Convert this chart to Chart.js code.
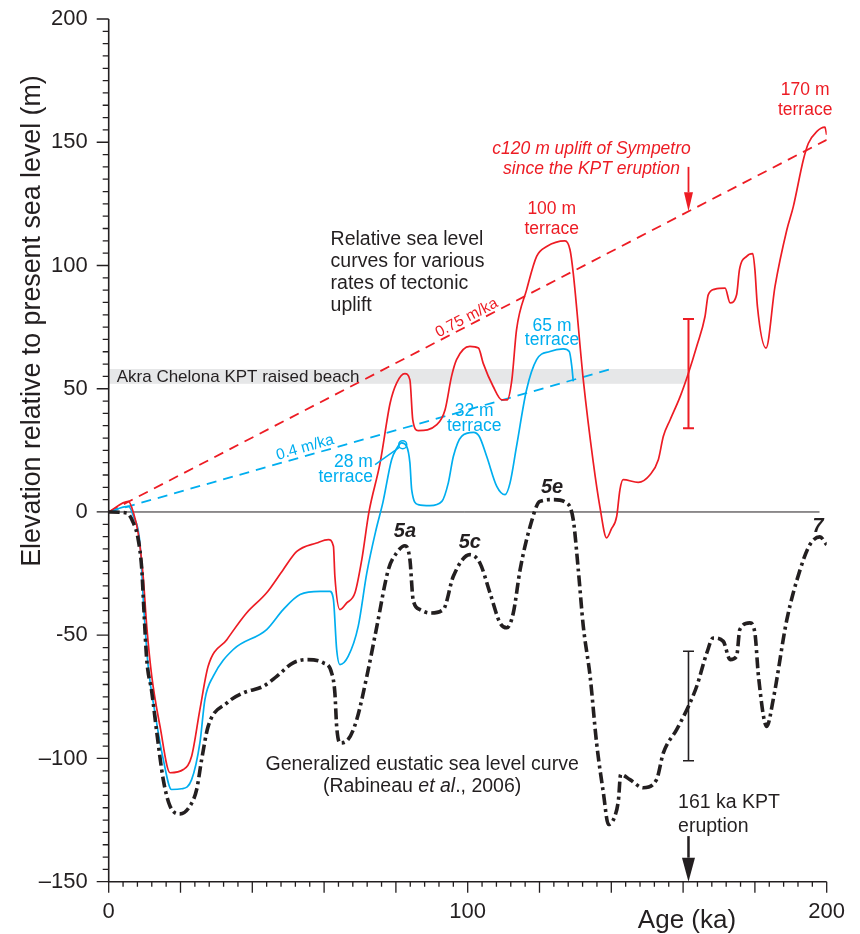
<!DOCTYPE html>
<html>
<head>
<meta charset="utf-8">
<script src="https://cdn.jsdelivr.net/npm/chart.js@4.4.1/dist/chart.umd.min.js"></script>
<style>
  html, body { margin: 0; padding: 0; background: #fff; }
  canvas { display: block; }
</style>
</head>
<body>
<canvas id="chart" width="860" height="934"></canvas>
<script>
// Generalized eustatic sea level curve (Rabineau et al., 2006)
const AGE_EUSTATIC = [0, 5, 6.9, 8.2, 9.2, 9.8, 10.6, 12, 13.4, 15.2, 17.1, 19.9, 22.6, 24.5, 25.9, 27.7, 32.9, 37.5, 43.1, 46.8, 51.4, 55.2, 59.8, 62.1, 63, 63.5, 64.4, 66.7, 69.1, 71.9, 74.7, 77.9, 80.2, 82.5, 83.9, 84.8, 86.7, 89.5, 93.2, 96, 100.6, 103.4, 106.2, 109, 110.9, 112.7, 114.6, 117.4, 120.1, 123.8, 127.6, 129.4, 130.8, 132.2, 134.1, 135.9, 137.8, 139.2, 141, 142, 142.6, 145.2, 148.9, 152.6, 154.5, 158.2, 161.5, 163.8, 166.6, 168.4, 171.2, 173.1, 174.9, 175.8, 178.6, 180, 181, 183.3, 185.1, 188.9, 192.6, 195.3, 198.1, 200];
const SL_EUSTATIC = [0, -0.4, -4.5, -11, -23, -39.6, -60, -73, -89.5, -108.6, -119.4, -122.5, -119.4, -112.6, -100.4, -87, -77.5, -73.4, -70.7, -66.7, -61.2, -59.9, -61.2, -65.3, -73.4, -87, -93.7, -92.3, -84.2, -66.7, -46.4, -23.4, -16.6, -13.7, -19.3, -35.6, -39.6, -41, -39.6, -26.1, -17.3, -20.7, -32.8, -45, -47, -41, -23.4, -5.8, 4.3, 5, 3.6, -3.1, -23.4, -46.4, -66.7, -93.7, -114, -126.8, -123.4, -116.7, -106.5, -108.6, -111.9, -108.6, -97.7, -88.3, -78.8, -70.7, -57.2, -51.1, -52.5, -59.9, -58.6, -47.7, -45, -49.1, -66.7, -87, -76.1, -43.7, -23.4, -13.3, -10.1, -13.3];

// Relative sea level, 0.75 m/ka uplift
const AGE_RED = [0, 5.5, 6.9, 8.2, 9.6, 10.6, 12, 14.3, 17.1, 20.8, 23.1, 25.4, 27.7, 32.9, 38.4, 44, 48.6, 52.4, 57.9, 61.2, 62.6, 63, 64.4, 66.3, 68.6, 70.5, 72.5, 75.6, 78.4, 80.2, 82.5, 83.9, 84.7, 86.2, 91.4, 93.7, 95.5, 96.9, 100.6, 103, 104.3, 107.1, 109.5, 111, 112.3, 113.6, 116.4, 119.2, 122, 127.1, 128.5, 129.4, 132.2, 135, 136.8, 138.7, 140, 141.5, 142.4, 143.3, 147.5, 150.8, 153.1, 154.5, 156.4, 159.2, 161.5, 163.8, 166.1, 167, 168.9, 171.7, 173.1, 174.9, 175.7, 177.7, 179.4, 180, 180.7, 183.1, 185.6, 188.9, 190.7, 193.5, 194.9, 197.2, 199.5, 200];
const SL_RED = [0, 4.3, -0.4, -8.5, -26.1, -46.4, -66.7, -87, -105.8, -104.5, -99.1, -80.2, -62.6, -51.8, -41, -32.8, -23.4, -16, -12.6, -11.2, -13.9, -26.1, -39.6, -36.9, -32.8, -19.3, 0, 19.9, 44.2, 52.3, 56.1, 53.6, 37.4, 33, 35.4, 41.5, 55, 61.8, 67.2, 66.5, 60.4, 50.9, 45.5, 45.5, 53.6, 73.9, 90.1, 103.7, 107.7, 110, 106.4, 96.9, 53.6, 19.9, 2.3, -10.5, -7, -1.8, 9, 13.1, 12, 15.1, 21.2, 30.7, 37.4, 46.9, 56.4, 67.2, 79.3, 88.1, 90.4, 90.8, 84.8, 88.1, 98.3, 103.7, 104.8, 98.3, 83.4, 66.5, 91.5, 114.5, 123.9, 142.9, 149.6, 154.3, 156.1, 153];

// Relative sea level, 0.4 m/ka uplift
const AGE_BLUE = [0, 5.5, 6.9, 8.7, 9.8, 11, 12.9, 15.2, 17.5, 20.3, 23.1, 25.4, 26.8, 29.1, 34.7, 44, 48.6, 53.3, 58.9, 61.6, 62.6, 63.5, 64.4, 66.7, 69.5, 71.9, 74.5, 76.4, 78.8, 80.3, 81.6, 83, 83.9, 84.4, 86.2, 89.5, 92.8, 94.6, 96, 98.3, 101.6, 103.2, 105.3, 108.1, 110.4, 111.8, 113.6, 116.4, 119.2, 122.9, 126.6, 128.3, 129, 129.4];
const SL_BLUE = [0, 2.3, -1.7, -12.6, -39.6, -62.6, -81.5, -100.4, -112.6, -112.3, -108.6, -93.7, -76.1, -66.7, -55.8, -47.7, -39.6, -33.5, -32.2, -32.2, -35.6, -55.8, -61.9, -58.6, -46.4, -24.7, -7, 4, 21.2, 26, 28, 26.6, 19.9, 9, 3, 2.6, 4.3, 11.8, 22.5, 30.7, 32.3, 30.7, 22.5, 10.4, 7, 11.8, 26.6, 49.6, 61.8, 65.1, 66.2, 65.1, 59, 53];

// Uplift lines (age, elevation of end points)
const AGE_UPLIFT_075 = [0, 200];
const SL_UPLIFT_075 = [0, 151];
const AGE_UPLIFT_04 = [0, 140];
const SL_UPLIFT_04 = [0, 58];

// Akra Chelona KPT raised beach band, KPT eruption
const BEACH_RANGE = [52, 58];
const KPT_AGE = 161.5;
const ERR_RED = [34, 78.3];
const ERR_BLACK = [-100.9, -56.5];

const X_LABELS = [0, 100, 200];
const Y_LABELS = { 200: '200', 150: '150', 100: '100', 50: '50', 0: '0', '-50': '-50', '-100': '\u2013100', '-150': '\u2013150' };

const FONT = "'Liberation Sans', Arial, Helvetica, sans-serif";
const BLACK = '#231f20';
const RED = '#ed1c24';
const BLUE = '#00aeef';

const pts = (xs, ys) => xs.map((a, i) => ({ x: a, y: ys[i] }));

// Texts on the plot (positions in ka / m)
const notes = [
    { lines: ['Relative sea level', 'curves for various', 'rates of tectonic', 'uplift'], x: 61.8, y: 110.4, lh: 22, align: 'left', color: BLACK, font: '19.5px' },
    { lines: ['Generalized eustatic sea level curve'], x: 87.3, y: -102.4, lh: 22, align: 'center', color: BLACK, font: '19.5px' },
    { lines: ['161 ka KPT', 'eruption'], x: 158.6, y: -117.9, lh: 24, align: 'left', color: BLACK, font: '19.5px' },
    { lines: ['c120 m uplift of Sympetro', 'since the KPT eruption'], x: 134.5, y: 147.3, lh: 20, align: 'center', color: RED, font: 'italic 17.5px' },
    { lines: ['170 m', 'terrace'], x: 194, y: 171.3, lh: 20, align: 'center', color: RED, font: '17.5px' },
    { lines: ['100 m', 'terrace'], x: 123.4, y: 123, lh: 20, align: 'center', color: RED, font: '17.5px' },
    { lines: ['65 m', 'terrace'], x: 123.5, y: 75.3, lh: 14, align: 'center', color: BLUE, font: '17.5px' },
    { lines: ['32 m', 'terrace'], x: 101.8, y: 40.8, lh: 15, align: 'center', color: BLUE, font: '17.5px' },
    { lines: ['28 m', 'terrace'], x: 73.6, y: 20.4, lh: 15, align: 'right', color: BLUE, font: '17.5px' },
    { lines: ['5a'], x: 82.5, y: -8, lh: 20, align: 'center', color: BLACK, font: 'italic bold 20px' },
    { lines: ['5c'], x: 100.6, y: -12.3, lh: 20, align: 'center', color: BLACK, font: 'italic bold 20px' },
    { lines: ['5e'], x: 123.5, y: 9.9, lh: 20, align: 'center', color: BLACK, font: 'italic bold 20px' },
    { lines: ['7'], x: 197.6, y: -6, lh: 20, align: 'center', color: BLACK, font: 'italic bold 20px' }
];

function arrow(ctx, x, y0, y1, len, half, color, w) {
    ctx.strokeStyle = color;
    ctx.fillStyle = color;
    ctx.lineWidth = w;
    ctx.beginPath();
    ctx.moveTo(x, y0);
    ctx.lineTo(x, y1 - len);
    ctx.stroke();
    ctx.beginPath();
    ctx.moveTo(x - half, y1 - len);
    ctx.lineTo(x + half, y1 - len);
    ctx.lineTo(x, y1);
    ctx.closePath();
    ctx.fill();
}

function errBar(ctx, x, yA, yB, color, w) {
    ctx.strokeStyle = color;
    ctx.lineWidth = w;
    ctx.beginPath();
    ctx.moveTo(x, yA); ctx.lineTo(x, yB);
    ctx.moveTo(x - 5.5, yA); ctx.lineTo(x + 5.5, yA);
    ctx.moveTo(x - 5.5, yB); ctx.lineTo(x + 5.5, yB);
    ctx.stroke();
}

const decor = {
    id: 'decor',
    beforeDatasetsDraw(chart) {
        const { ctx, scales: { x, y } } = chart;
        ctx.save();
        // raised beach band
        const x0 = x.getPixelForValue(0), x1 = x.getPixelForValue(KPT_AGE - 0.5);
        const yT = y.getPixelForValue(BEACH_RANGE[1]), yB = y.getPixelForValue(BEACH_RANGE[0]);
        ctx.fillStyle = '#e6e7e8';
        ctx.fillRect(x0, yT, x1 - x0, yB - yT);
        ctx.fillStyle = BLACK;
        ctx.font = '17px ' + FONT;
        ctx.textBaseline = 'middle';
        ctx.textAlign = 'left';
        ctx.fillText('Akra Chelona KPT raised beach', x0 + 8, (yT + yB) / 2 + 1);
        ctx.restore();
    },
    afterDraw(chart) {
        const { ctx, scales: { x, y } } = chart;
        ctx.save();
        const left = x.getPixelForValue(0), right = x.getPixelForValue(200);
        const top = y.getPixelForValue(200), bottom = y.getPixelForValue(-150);

        // axis lines and ticks
        ctx.strokeStyle = BLACK;
        ctx.lineWidth = 1.6;
        ctx.beginPath();
        ctx.moveTo(left, top); ctx.lineTo(left, bottom); ctx.lineTo(right, bottom);
        ctx.stroke();
        ctx.lineWidth = 1.3;
        ctx.beginPath();
        y.ticks.forEach(t => {
            const py = y.getPixelForValue(t.value);
            const l = t.value % 50 === 0 ? 12 : 6;
            ctx.moveTo(left - l, py); ctx.lineTo(left, py);
        });
        x.ticks.forEach(t => {
            const px = x.getPixelForValue(t.value);
            const l = t.value % 20 === 0 ? 11 : 5;
            ctx.moveTo(px, bottom); ctx.lineTo(px, bottom + l);
        });
        ctx.stroke();

        // axis titles
        ctx.fillStyle = BLACK;
        ctx.textBaseline = 'middle';
        ctx.textAlign = 'center';
        ctx.font = '26px ' + FONT;
        ctx.fillText('Age (ka)', 687, 921);
        ctx.save();
        ctx.translate(33, 321);
        ctx.rotate(-Math.PI / 2);
        ctx.font = '26.8px ' + FONT;
        ctx.fillText('Elevation relative to present sea level (m)', 0, 0);
        ctx.restore();

        // notes
        notes.forEach(n => {
            ctx.fillStyle = n.color;
            ctx.font = n.font + ' ' + FONT;
            ctx.textAlign = n.align;
            const px = x.getPixelForValue(n.x), py = y.getPixelForValue(n.y);
            n.lines.forEach((s, i) => ctx.fillText(s, px, py + i * n.lh));
        });

        // (Rabineau et al., 2006)
        const parts = [['(Rabineau ', ''], ['et al', 'italic '], ['., 2006)', '']];
        let w = 0;
        parts.forEach(p => { ctx.font = p[1] + '19.5px ' + FONT; w += ctx.measureText(p[0]).width; });
        let cx = x.getPixelForValue(87.3) - w / 2;
        const cy = y.getPixelForValue(-111.3);
        ctx.fillStyle = BLACK;
        ctx.textAlign = 'left';
        parts.forEach(p => {
            ctx.font = p[1] + '19.5px ' + FONT;
            ctx.fillText(p[0], cx, cy);
            cx += ctx.measureText(p[0]).width;
        });

        // slope labels along dashed lines
        const slopeLabel = (text, ax, ay, bx, by, color) => {
            const p0x = x.getPixelForValue(bx[0]), p0y = y.getPixelForValue(by[0]);
            const p1x = x.getPixelForValue(bx[1]), p1y = y.getPixelForValue(by[1]);
            ctx.save();
            ctx.translate(x.getPixelForValue(ax), y.getPixelForValue(ay));
            ctx.rotate(Math.atan2(p1y - p0y, p1x - p0x));
            ctx.fillStyle = color;
            ctx.font = '15.5px ' + FONT;
            ctx.textAlign = 'center';
            ctx.fillText(text, 0, 0);
            ctx.restore();
        };
        slopeLabel('0.75 m/ka', 99.7, 78.7, AGE_UPLIFT_075, SL_UPLIFT_075, RED);
        slopeLabel('0.4 m/ka', 54.7, 26.1, AGE_UPLIFT_04, SL_UPLIFT_04, BLUE);

        // 28 m terrace pointer
        ctx.strokeStyle = BLUE;
        ctx.lineWidth = 1.5;
        const cpx = x.getPixelForValue(81.9), cpy = y.getPixelForValue(27.3);
        ctx.beginPath();
        ctx.moveTo(x.getPixelForValue(74.2), y.getPixelForValue(19.2));
        ctx.lineTo(cpx - 3, cpy + 2.5);
        ctx.stroke();
        ctx.beginPath();
        ctx.arc(cpx, cpy, 4, 0, Math.PI * 2);
        ctx.stroke();

        // KPT eruption: error bars and arrows
        const kx = x.getPixelForValue(KPT_AGE);
        errBar(ctx, kx, y.getPixelForValue(ERR_RED[0]), y.getPixelForValue(ERR_RED[1]), RED, 2);
        errBar(ctx, kx, y.getPixelForValue(ERR_BLACK[0]), y.getPixelForValue(ERR_BLACK[1]), BLACK, 1.6);
        arrow(ctx, kx, y.getPixelForValue(140), y.getPixelForValue(122), 19, 4.5, RED, 1.8);
        arrow(ctx, kx, y.getPixelForValue(-131.5), bottom, 24, 6.5, BLACK, 2.5);
        ctx.restore();
    }
};

new Chart(document.getElementById('chart'), {
    type: 'line',
    data: {
        datasets: [
            {
                label: 'Eustatic',
                data: pts(AGE_EUSTATIC, SL_EUSTATIC),
                borderColor: BLACK,
                borderWidth: 3.6,
                borderDash: [11, 4, 3, 4],
                cubicInterpolationMode: 'monotone'
            },
            {
                label: '0.75 m/ka',
                data: pts(AGE_RED, SL_RED),
                borderColor: RED,
                borderWidth: 1.7,
                cubicInterpolationMode: 'monotone'
            },
            {
                label: '0.4 m/ka',
                data: pts(AGE_BLUE, SL_BLUE),
                borderColor: BLUE,
                borderWidth: 1.7,
                cubicInterpolationMode: 'monotone'
            },
            {
                label: 'uplift 0.75',
                data: pts(AGE_UPLIFT_075, SL_UPLIFT_075),
                borderColor: RED,
                borderWidth: 1.8,
                borderDash: [10, 7]
            },
            {
                label: 'uplift 0.4',
                data: pts(AGE_UPLIFT_04, SL_UPLIFT_04),
                borderColor: BLUE,
                borderWidth: 1.8,
                borderDash: [10, 7]
            },
            {
                label: 'present sea level',
                data: pts([0, 198], [0, 0]),
                borderColor: BLACK,
                borderWidth: 1
            }
        ]
    },
    options: {
        responsive: false,
        animation: false,
        events: [],
        layout: { padding: { left: 0, right: 33.3, top: 19, bottom: 0 } },
        elements: { point: { radius: 0 } },
        plugins: { legend: { display: false }, tooltip: { enabled: false } },
        scales: {
            x: {
                type: 'linear',
                min: 0,
                max: 200,
                grid: { display: false },
                border: { display: false },
                afterFit: s => { s.height = 52.3; s.paddingLeft = 0; s.paddingRight = 0; },
                ticks: {
                    stepSize: 4,
                    autoSkip: false,
                    maxRotation: 0,
                    padding: 9,
                    color: BLACK,
                    font: { family: FONT, size: 22 },
                    callback: v => X_LABELS.includes(v) ? String(v) : ''
                }
            },
            y: {
                min: -150,
                max: 200,
                grid: { display: false },
                border: { display: false },
                afterFit: s => { s.width = 108.7; s.paddingTop = 0; s.paddingBottom = 0; },
                ticks: {
                    stepSize: 5,
                    autoSkip: false,
                    padding: 13,
                    color: BLACK,
                    font: { family: FONT, size: 22 },
                    callback: v => Y_LABELS[v] !== undefined ? Y_LABELS[v] : ''
                }
            }
        }
    },
    plugins: [decor]
});
</script>
</body>
</html>
